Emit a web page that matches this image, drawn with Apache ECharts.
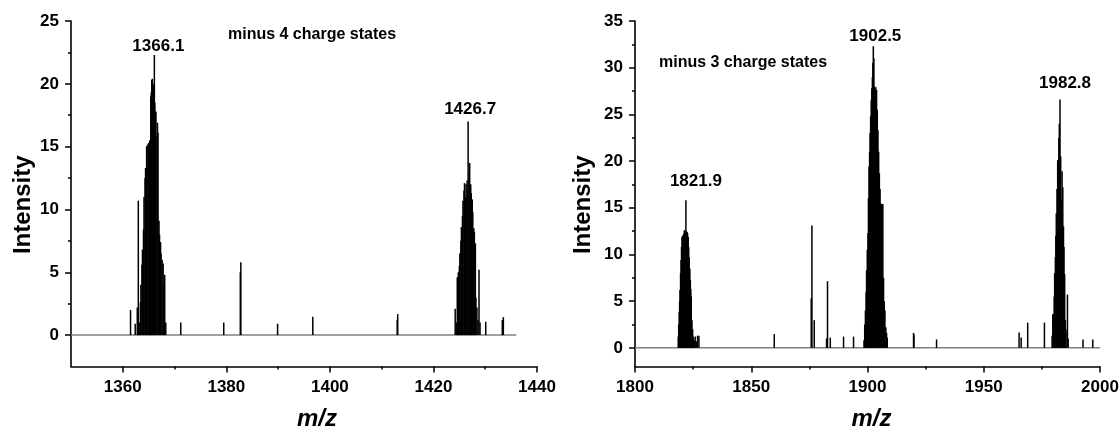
<!DOCTYPE html>
<html>
<head>
<meta charset="utf-8">
<title>Negative-ion mass spectra</title>
<script src="https://cdn.jsdelivr.net/npm/echarts@6/dist/echarts.min.js"></script>
<style>
  html, body { margin: 0; padding: 0; background: #fff; }
  #chart { width: 1120px; height: 426px; }
</style>
</head>
<body>
<div id="chart"></div>
<script>
// ---- Spectrum data: [m/z, intensity] sticks ----

// -4 charge state envelope near m/z 1366
const leftClusterA = [
  [1361.5, 2.0], [1362.4, 0.9], [1362.8, 2.2], [1363.0, 10.7], [1363.2, 1.0],
  [1363.4, 2.6], [1363.5, 4.0], [1363.7, 5.6], [1363.8, 6.8], [1364.0, 8.4],
  [1364.1, 11.0], [1364.3, 12.5], [1364.4, 13.3], [1364.6, 15.0], [1364.7, 15.1],
  [1364.9, 15.2], [1365.0, 15.3], [1365.2, 15.5], [1365.4, 19.0], [1365.5, 19.3],
  [1365.6, 20.3], [1365.7, 20.4], [1365.8, 19.9], [1365.9, 19.6], [1366.0, 20.0],
  [1366.1, 22.3], [1366.2, 18.5], [1366.3, 17.7], [1366.4, 17.8], [1366.6, 15.8],
  [1366.7, 16.9], [1366.8, 16.1], [1367.0, 9.1], [1367.1, 8.0], [1367.3, 7.4],
  [1367.4, 6.5], [1367.6, 6.0], [1367.8, 5.7], [1367.9, 4.1], [1368.1, 4.8],
  [1368.3, 1.0]
];

// -4 charge state envelope near m/z 1426.7
const leftClusterB = [
  [1424.2, 2.1], [1424.4, 1.0], [1424.6, 4.6], [1424.7, 2.9], [1424.8, 5.0],
  [1425.0, 5.5], [1425.1, 6.5], [1425.3, 7.5], [1425.4, 8.6], [1425.6, 9.5],
  [1425.7, 10.7], [1425.9, 11.5], [1426.0, 12.1], [1426.2, 11.0], [1426.3, 12.0],
  [1426.5, 12.3], [1426.6, 11.5], [1426.7, 17.0], [1426.9, 13.0], [1427.0, 13.7],
  [1427.2, 12.0], [1427.3, 11.3], [1427.5, 10.8], [1427.6, 9.8], [1427.8, 8.5],
  [1427.9, 8.2], [1428.1, 7.3], [1428.2, 3.0], [1428.4, 2.2], [1428.6, 1.2],
  [1428.8, 5.2], [1429.0, 1.0]
];

// isolated minor peaks, -4 window
const leftMinor = [
  [1371.2, 1.0], [1379.5, 1.0], [1382.7, 5.0], [1382.8, 5.8], [1389.9, 0.9],
  [1396.7, 1.45], [1413.0, 1.2], [1413.1, 1.67], [1430.1, 1.06], [1433.3, 1.2],
  [1433.5, 1.43]
];

// -3 charge state envelope near m/z 1821.9
const rightClusterA = [
  [1818.6, 1.2], [1818.8, 2.5], [1819.0, 3.85], [1819.2, 5.0], [1819.35, 6.2],
  [1819.6, 8.0], [1819.8, 9.4], [1820.0, 10.8], [1820.2, 11.9], [1820.5, 12.0],
  [1820.7, 11.0], [1820.9, 12.2], [1821.2, 12.6], [1821.5, 12.5], [1821.7, 12.3],
  [1821.9, 15.8], [1822.1, 12.5], [1822.4, 12.4], [1822.6, 12.3], [1822.9, 11.9],
  [1823.1, 10.8], [1823.3, 9.7], [1823.6, 8.5], [1823.8, 7.25], [1824.0, 6.3],
  [1824.2, 5.5], [1824.5, 2.96], [1824.8, 2.0], [1825.1, 1.2], [1825.5, 0.8],
  [1825.9, 1.2], [1826.4, 0.7], [1826.9, 1.3], [1827.5, 1.3]
];

// -3 charge state envelope near m/z 1902.5
const rightClusterB = [
  [1898.5, 0.8], [1898.8, 2.5], [1899.1, 4.0], [1899.4, 6.0], [1899.6, 8.3],
  [1899.9, 10.5], [1900.2, 12.3], [1900.4, 16.0], [1900.65, 19.4], [1900.9, 21.0],
  [1901.1, 23.0], [1901.35, 24.8], [1901.6, 26.5], [1901.85, 27.8], [1902.1, 29.0],
  [1902.3, 30.5], [1902.5, 32.3], [1902.75, 31.0], [1903.0, 28.0], [1903.3, 27.5],
  [1903.6, 27.9], [1903.9, 27.6], [1904.2, 25.5], [1904.5, 23.3], [1904.8, 21.0],
  [1905.1, 18.7], [1905.4, 17.0], [1905.6, 15.5], [1906.0, 15.4], [1906.3, 15.3],
  [1906.6, 15.4], [1906.9, 7.5], [1907.2, 5.0], [1907.5, 4.0], [1907.9, 2.2],
  [1908.2, 1.6], [1908.5, 1.1]
];

// -3 charge state envelope near m/z 1982.8
const rightClusterC = [
  [1979.4, 1.3], [1979.7, 3.6], [1980.0, 3.6], [1980.3, 5.5], [1980.5, 8.0],
  [1980.8, 9.7], [1981.0, 12.0], [1981.2, 14.4], [1981.5, 17.0], [1981.8, 20.1],
  [1982.0, 20.0], [1982.3, 22.5], [1982.5, 24.0], [1982.8, 26.6], [1983.1, 20.5],
  [1983.4, 15.8], [1983.7, 18.9], [1984.0, 17.2], [1984.3, 13.0], [1984.5, 10.8],
  [1984.8, 7.9], [1985.1, 3.0], [1985.4, 2.0], [1986.0, 5.7], [1986.3, 1.0]
];

// isolated minor peaks, -3 window
const rightMinor = [
  [1859.9, 1.47], [1875.8, 5.3], [1876.1, 13.1], [1877.1, 2.96], [1882.4, 1.0],
  [1882.8, 7.14], [1884.0, 1.1], [1889.7, 1.2], [1894.0, 1.2], [1919.8, 1.6],
  [1920.0, 1.4], [1929.7, 0.9], [1965.2, 1.65], [1966.1, 1.1], [1968.9, 2.7],
  [1976.1, 2.7], [1992.7, 0.9], [1996.9, 0.9]
];

// acquired m/z range of each spectrum (drawn as the zero trace)
const leftRange = [1350, 1436];
const rightRange = [1800, 2000];

// labelled peak maxima [m/z, intensity]
const leftPeaks = [[1366.1, 22.3], [1426.7, 17.0]];
const rightPeaks = [[1821.9, 15.8], [1902.5, 32.3], [1982.8, 26.6]];

// axis ticks
const leftXTicks = [1360, 1380, 1400, 1420, 1440];
const leftXMinor = [1370, 1390, 1410, 1430];
const leftYTicks = [0, 5, 10, 15, 20, 25];
const leftYMinor = [2.5, 7.5, 12.5, 17.5, 22.5];
const rightYTicks = [0, 5, 10, 15, 20, 25, 30, 35];
const rightYMinor = [2.5, 7.5, 12.5, 17.5, 22.5, 27.5, 32.5];

const notes = ['minus 4 charge states', 'minus 3 charge states'];

// ---- Drawing ----
const FONT = '"Liberation Sans", Arial, Helvetica, sans-serif';
const chart = echarts.init(document.getElementById('chart'), null, { renderer: 'canvas' });

function stick(params, api) {
  const base = api.coord([api.value(0), 0]);
  const tip = api.coord([api.value(0), api.value(1)]);
  return {
    type: 'line',
    shape: { x1: base[0], y1: base[1], x2: tip[0], y2: tip[1] },
    style: { stroke: '#000', lineWidth: 1.5 }
  };
}

const plain = (v) => String(v);
const tickLabel = { color: '#000', fontFamily: FONT, fontWeight: 'bold', fontSize: 17, formatter: plain };
const axisLine = { show: true, onZero: false, lineStyle: { color: '#000', width: 1.6 } };
const noLine = { show: false, onZero: false };
const X_LABEL_MARGIN = 12;
const X_NAME_GAP = 41;

function mainX(gridIndex, min, max, extra) {
  return Object.assign({
    type: 'value', gridIndex, min, max, position: 'bottom',
    axisLine, splitLine: { show: false },
    axisTick: { show: true, length: 6, lineStyle: { color: '#000', width: 1.5 } },
    axisLabel: Object.assign({ margin: X_LABEL_MARGIN }, tickLabel),
    name: 'm/z', nameLocation: 'middle', nameGap: X_NAME_GAP,
    nameTextStyle: { color: '#000', fontFamily: FONT, fontWeight: 'bold', fontStyle: 'italic', fontSize: 24 }
  }, extra);
}
function minorX(gridIndex, min, max, values) {
  return {
    type: 'value', gridIndex, min, max, position: 'bottom',
    axisLine: noLine, splitLine: { show: false }, axisLabel: { show: false },
    axisTick: { show: true, length: 3, customValues: values, lineStyle: { color: '#000', width: 1.5 } }
  };
}
function mainY(gridIndex, min, max, ticks, nameGap, pad) {
  return {
    type: 'value', gridIndex, min, max, position: 'left',
    axisLine, splitLine: { show: false },
    axisTick: { show: true, length: 6, customValues: ticks, lineStyle: { color: '#000', width: 1.5 } },
    axisLabel: Object.assign({ margin: 12, customValues: ticks }, tickLabel),
    name: 'Intensity', nameLocation: 'middle', nameGap,
    nameTextStyle: { color: '#000', fontFamily: FONT, fontWeight: 'bold', fontSize: 24, padding: pad }
  };
}
function minorY(gridIndex, min, max, values) {
  return {
    type: 'value', gridIndex, min, max, position: 'left',
    axisLine: noLine, splitLine: { show: false }, axisLabel: { show: false },
    axisTick: { show: true, length: 3, customValues: values, lineStyle: { color: '#000', width: 1.5 } }
  };
}

function peakLabels(xAxisIndex, yAxisIndex, peaks, offsets) {
  return {
    type: 'scatter', xAxisIndex, yAxisIndex, symbolSize: 0, silent: true, z: 5,
    itemStyle: { opacity: 1 },
    data: peaks.map((p, i) => ({ value: p, label: { offset: offsets[i] } })),
    label: {
      show: true, position: 'top', distance: 2,
      formatter: (p) => p.value[0].toFixed(1),
      color: '#000', opacity: 1, fontFamily: FONT, fontWeight: 'bold', fontSize: 17
    }
  };
}

function sticks(xAxisIndex, yAxisIndex, data) {
  return {
    type: 'custom', xAxisIndex, yAxisIndex, renderItem: stick, silent: true, z: 3,
    encode: { x: 0, y: 1 }, data
  };
}

function zeroTrace(xAxisIndex, yAxisIndex, range) {
  return {
    type: 'line', xAxisIndex, yAxisIndex, symbol: 'none', silent: true, z: 2,
    lineStyle: { color: '#808080', width: 1.5 },
    data: range.map((x) => [x, 0])
  };
}

const option = {
  animation: false,
  backgroundColor: '#fff',
  grid: [
    { left: 71, top: 21, width: 466, height: 345.5, containLabel: false, outerBoundsMode: 'none' },
    { left: 635, top: 21, width: 465, height: 345.5, containLabel: false, outerBoundsMode: 'none' }
  ],
  xAxis: [
    mainX(0, 1350, 1440, {
      axisTick: { show: true, length: 6, customValues: leftXTicks, lineStyle: { color: '#000', width: 1.5 } },
      axisLabel: Object.assign({ margin: X_LABEL_MARGIN, customValues: leftXTicks }, tickLabel),
      nameTextStyle: { color: '#000', fontFamily: FONT, fontWeight: 'bold', fontStyle: 'italic', fontSize: 24, padding: [0, 0, 0, 26] }
    }),
    minorX(0, 1350, 1440, leftXMinor),
    mainX(1, 1800, 2000, {
      interval: 50,
      minorTick: { show: true, splitNumber: 2, length: 3, lineStyle: { color: '#000', width: 1.5 } },
      nameTextStyle: { color: '#000', fontFamily: FONT, fontWeight: 'bold', fontStyle: 'italic', fontSize: 24, padding: [0, 0, 0, 8] }
    })
  ],
  yAxis: [
    mainY(0, -2.5, 25, leftYTicks, 36, [0, 22, 0, 0]),
    minorY(0, -2.5, 25, leftYMinor),
    mainY(1, -2, 35, rightYTicks, 40, [0, 22, 0, 0]),
    minorY(1, -2, 35, rightYMinor)
  ],
  graphic: [
    { type: 'text', x: 312, y: 35, silent: true,
      style: { text: notes[0], font: 'bold 16px ' + FONT, align: 'center', verticalAlign: 'middle', fill: '#000' } },
    { type: 'text', x: 743, y: 63, silent: true,
      style: { text: notes[1], font: 'bold 16px ' + FONT, align: 'center', verticalAlign: 'middle', fill: '#000' } }
  ],
  series: [
    zeroTrace(0, 0, leftRange),
    sticks(0, 0, leftClusterA.concat(leftClusterB, leftMinor)),
    peakLabels(0, 0, leftPeaks, [[4, 2], [2, -2]]),
    zeroTrace(2, 2, rightRange),
    sticks(2, 2, rightClusterA.concat(rightClusterB, rightClusterC, rightMinor)),
    peakLabels(2, 2, rightPeaks, [[10, -8], [2, 1], [5, -6]])
  ]
};

chart.setOption(option);
</script>
</body>
</html>
